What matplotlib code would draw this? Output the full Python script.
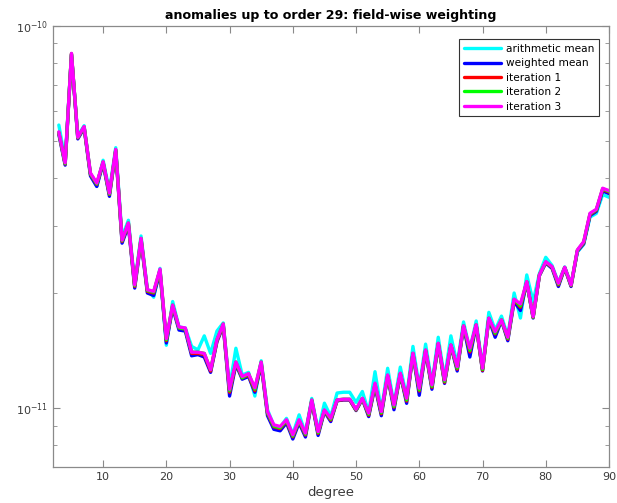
import numpy as np
import matplotlib
matplotlib.use("Agg")
import matplotlib.pyplot as plt
from matplotlib.ticker import FixedLocator, NullFormatter

degrees = list(range(3, 91))

# values in units of 1e-11
iteration3 = [5.28, 4.38, 8.47, 5.11, 5.45, 4.12, 3.88, 4.41, 3.65, 4.75,
              2.75, 3.05, 2.10, 2.78, 2.04, 2.02, 2.31, 1.52, 1.86, 1.63,
              1.62, 1.40, 1.40, 1.39, 1.26, 1.51, 1.66, 1.12, 1.32, 1.21,
              1.23, 1.13, 1.32, 0.979, 0.904, 0.895, 0.932, 0.851, 0.932, 0.860,
              1.05, 0.868, 0.989, 0.941, 1.05, 1.055, 1.055, 0.993, 1.061, 0.970,
              1.162, 0.979, 1.221, 1.019, 1.234, 1.061, 1.392, 1.127, 1.419, 1.15,
              1.478, 1.185, 1.463, 1.284, 1.641, 1.434, 1.651, 1.271, 1.719, 1.585,
              1.70, 1.532, 1.927, 1.873, 2.142, 1.735, 2.23, 2.416, 2.344, 2.121,
              2.336, 2.10, 2.592, 2.725, 3.233, 3.312, 3.759, 3.705]

iteration2 = [5.26, 4.36, 8.45, 5.10, 5.44, 4.10, 3.86, 4.40, 3.63, 4.74,
              2.74, 3.05, 2.09, 2.78, 2.03, 2.01, 2.30, 1.51, 1.86, 1.62,
              1.61, 1.40, 1.40, 1.39, 1.26, 1.51, 1.66, 1.11, 1.32, 1.20,
              1.23, 1.12, 1.32, 0.972, 0.897, 0.888, 0.928, 0.845, 0.928, 0.854,
              1.05, 0.862, 0.987, 0.935, 1.05, 1.055, 1.055, 0.990, 1.060, 0.963,
              1.155, 0.972, 1.218, 1.010, 1.231, 1.050, 1.390, 1.115, 1.417, 1.140,
              1.476, 1.175, 1.461, 1.272, 1.640, 1.415, 1.650, 1.262, 1.718, 1.570,
              1.70, 1.522, 1.925, 1.850, 2.140, 1.730, 2.23, 2.410, 2.340, 2.110,
              2.333, 2.095, 2.585, 2.715, 3.220, 3.300, 3.745, 3.690]

iteration1 = [5.25, 4.35, 8.44, 5.09, 5.43, 4.09, 3.85, 4.39, 3.62, 4.73,
              2.73, 3.04, 2.08, 2.77, 2.02, 2.00, 2.29, 1.50, 1.85, 1.62,
              1.61, 1.39, 1.39, 1.38, 1.25, 1.50, 1.65, 1.10, 1.31, 1.20,
              1.22, 1.11, 1.31, 0.968, 0.893, 0.884, 0.925, 0.841, 0.925, 0.850,
              1.045, 0.858, 0.985, 0.930, 1.048, 1.052, 1.052, 0.988, 1.058, 0.958,
              1.150, 0.966, 1.215, 1.005, 1.228, 1.043, 1.388, 1.108, 1.415, 1.133,
              1.474, 1.168, 1.460, 1.264, 1.638, 1.402, 1.648, 1.255, 1.716, 1.562,
              1.70, 1.515, 1.920, 1.835, 2.138, 1.727, 2.228, 2.405, 2.335, 2.100,
              2.330, 2.090, 2.580, 2.705, 3.210, 3.290, 3.730, 3.675]

weighted_mean = [5.20, 4.32, 8.40, 5.06, 5.40, 4.05, 3.80, 4.36, 3.58, 4.70,
                 2.70, 3.00, 2.06, 2.74, 2.00, 1.97, 2.27, 1.48, 1.83, 1.60,
                 1.59, 1.37, 1.38, 1.36, 1.24, 1.49, 1.64, 1.075, 1.30, 1.19,
                 1.21, 1.10, 1.30, 0.955, 0.880, 0.872, 0.915, 0.830, 0.915, 0.840,
                 1.04, 0.848, 0.980, 0.922, 1.045, 1.050, 1.050, 0.985, 1.055, 0.950,
                 1.140, 0.955, 1.210, 0.990, 1.225, 1.029, 1.385, 1.080, 1.410, 1.120,
                 1.470, 1.160, 1.455, 1.250, 1.635, 1.360, 1.645, 1.250, 1.710, 1.532,
                 1.695, 1.500, 1.900, 1.800, 2.130, 1.720, 2.22, 2.395, 2.320, 2.080,
                 2.325, 2.080, 2.570, 2.690, 3.190, 3.270, 3.700, 3.640]

arithmetic_mean = [5.50, 4.45, 8.40, 5.15, 5.48, 4.10, 3.80, 4.45, 3.70, 4.80,
                   2.80, 3.10, 2.12, 2.82, 2.05, 1.95, 2.32, 1.46, 1.90, 1.63,
                   1.62, 1.45, 1.42, 1.545, 1.39, 1.59, 1.67, 1.13, 1.434, 1.22,
                   1.24, 1.075, 1.33, 0.990, 0.900, 0.890, 0.940, 0.855, 0.960, 0.860,
                   1.06, 0.870, 1.030, 0.950, 1.095, 1.100, 1.100, 1.035, 1.105, 0.975,
                   1.245, 0.985, 1.271, 1.025, 1.280, 1.070, 1.450, 1.135, 1.470, 1.160,
                   1.532, 1.195, 1.545, 1.300, 1.680, 1.420, 1.690, 1.275, 1.780, 1.600,
                   1.740, 1.540, 2.000, 1.720, 2.230, 1.900, 2.25, 2.480, 2.360, 2.130,
                   2.340, 2.110, 2.560, 2.680, 3.160, 3.230, 3.620, 3.560]

labels = ["arithmetic mean", "weighted mean", "iteration 1", "iteration 2", "iteration 3"]
colors = ["#00ffff", "#0000ff", "#ff0000", "#00ff00", "#ff00ff"]
series = [arithmetic_mean, weighted_mean, iteration1, iteration2, iteration3]

x_ticks = [10, 20, 30, 40, 50, 60, 70, 80, 90]
y_major = [1e-11, 1e-10]
y_minor = [7e-12, 8e-12, 9e-12, 2e-11, 3e-11, 4e-11, 5e-11, 6e-11, 7e-11, 8e-11, 9e-11]

plt.rcParams['font.family'] = ['DejaVu Sans']

fig = plt.figure(figsize=(6.17, 5.03), dpi=100)
ax = fig.add_axes([0.0851, 0.071, 0.9019, 0.8777])

for vals, c, lab in zip(series, colors, labels):
    ax.plot(degrees, np.array(vals) * 1e-11, color=c, lw=2.4, label=lab,
            solid_joinstyle='round', solid_capstyle='round')

ax.set_yscale('log')
ax.set_xlim(2, 90)
ax.set_ylim(7e-12, 1e-10)
ax.set_xticks(x_ticks)
ax.yaxis.set_major_locator(FixedLocator(y_major))
ax.yaxis.set_minor_locator(FixedLocator(y_minor))
ax.yaxis.set_minor_formatter(NullFormatter())

spine_col = "#8a8a8a"
for s in ax.spines.values():
    s.set_color(spine_col)
    s.set_linewidth(0.9)
ax.tick_params(axis='both', which='both', direction='in', top=True, right=True,
               color=spine_col, labelcolor="#3a3a3a", labelsize=8)
ax.tick_params(which='major', length=5)
ax.tick_params(which='minor', length=3)

ax.set_title("anomalies up to order 29: field-wise weighting", fontsize=9.1,
             fontweight='bold', pad=5)
ax.set_xlabel("degree", fontsize=9.5, color="#3a3a3a", labelpad=3)

leg = ax.legend(loc='upper right', bbox_to_anchor=(0.992, 0.982), fontsize=7.6,
                handlelength=3.5, labelspacing=0.42, borderpad=0.45,
                handletextpad=0.5, fancybox=False, framealpha=1)
leg.get_frame().set_edgecolor("#333333")
leg.get_frame().set_linewidth(0.8)

fig.savefig("out.png", dpi=100)
